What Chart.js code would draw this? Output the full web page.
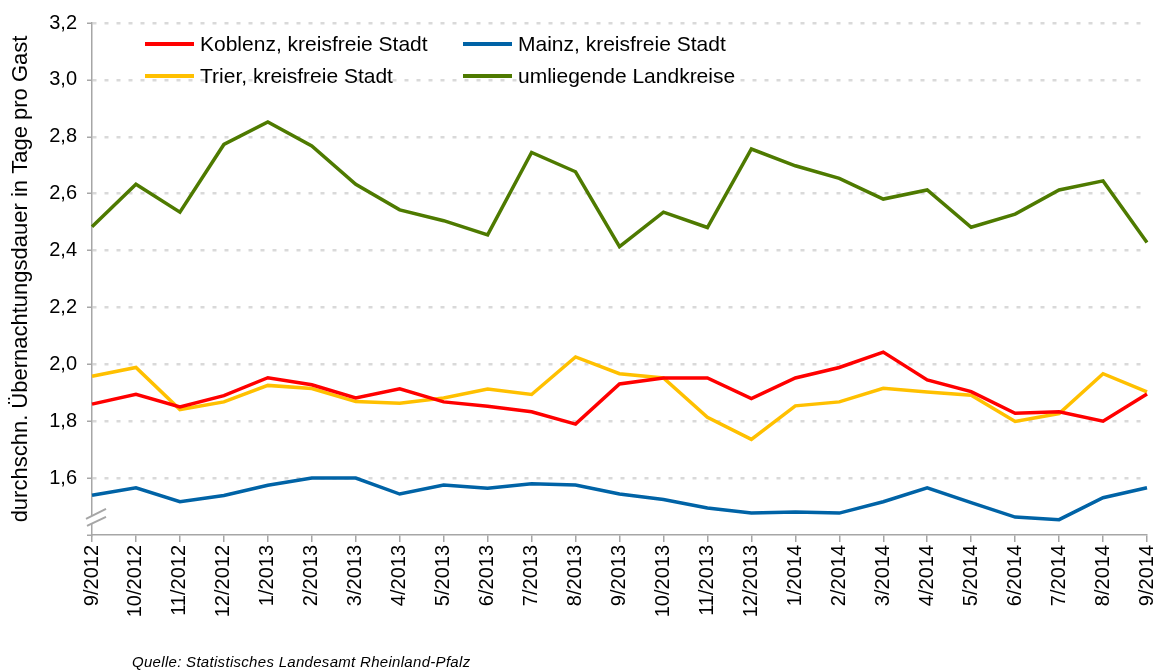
<!DOCTYPE html>
<html>
<head>
<meta charset="utf-8">
<script src="https://cdn.jsdelivr.net/npm/chart.js@4.4.0/dist/chart.umd.min.js"></script>
<style>
  html, body { margin: 0; padding: 0; background: #fff; }
  #wrap { position: relative; width: 1160px; height: 670px; overflow: hidden; }
  #source { position: absolute; left: 132px; top: 653px; font: italic 15px "Liberation Sans", Arial, sans-serif; letter-spacing: 0.3px; color: #000; }
</style>
</head>
<body>
<div id="wrap">
  <canvas id="chart" width="1160" height="670"></canvas>
  <div id="source">Quelle: Statistisches Landesamt Rheinland-Pfalz</div>
</div>
<script>
const months = ['9/2012', '10/2012', '11/2012', '12/2012', '1/2013', '2/2013', '3/2013', '4/2013', '5/2013',
  '6/2013', '7/2013', '8/2013', '9/2013', '10/2013', '11/2013', '12/2013', '1/2014', '2/2014', '3/2014',
  '4/2014', '5/2014', '6/2014', '7/2014', '8/2014', '9/2014'];

const koblenz = [1.86, 1.895, 1.85, 1.89, 1.953, 1.928, 1.882, 1.914, 1.868, 1.853, 1.833, 1.79, 1.931,
  1.952, 1.952, 1.88, 1.952, 1.989, 2.043, 1.945, 1.904, 1.828, 1.833, 1.80, 1.896];
const mainz = [1.54, 1.566, 1.517, 1.539, 1.575, 1.60, 1.60, 1.544, 1.576, 1.564, 1.58, 1.576, 1.544,
  1.525, 1.495, 1.477, 1.481, 1.477, 1.517, 1.566, 1.514, 1.463, 1.454, 1.531, 1.566];
const trier = [1.958, 1.989, 1.841, 1.868, 1.926, 1.915, 1.869, 1.863, 1.882, 1.913, 1.894, 2.026, 1.967,
  1.952, 1.814, 1.736, 1.854, 1.868, 1.916, 1.903, 1.891, 1.799, 1.827, 1.967, 1.903];
const landkreise = [2.484, 2.633, 2.535, 2.773, 2.852, 2.768, 2.633, 2.543, 2.505, 2.455, 2.745, 2.677, 2.414,
  2.535, 2.481, 2.757, 2.698, 2.654, 2.581, 2.613, 2.482, 2.528, 2.613, 2.645, 2.428];

const seriesNames = ['Koblenz, kreisfreie Stadt', 'Mainz, kreisfreie Stadt', 'Trier, kreisfreie Stadt', 'umliegende Landkreise'];
const seriesColors = ['#ff0000', '#0063a6', '#ffc000', '#4e7a00'];
const seriesValues = [koblenz, mainz, trier, landkreise];

const yMin = 1.4, yMax = 3.2, yStep = 0.2;
const font = '"Liberation Sans", Arial, sans-serif';
const axisGrey = '#a6a6a6';

// legend in two columns inside the plot, like the original
const legendPlugin = {
  id: 'gridLegend',
  afterDraw(chart) {
    const ctx = chart.ctx;
    const cols = [145, 463];
    const rows = [44, 76];
    ctx.save();
    ctx.font = '21px ' + font;
    ctx.textBaseline = 'middle';
    ctx.fillStyle = '#000';
    chart.data.datasets.forEach((ds, i) => {
      const x = cols[i % 2], y = rows[Math.floor(i / 2)];
      ctx.strokeStyle = ds.borderColor;
      ctx.lineWidth = 4;
      ctx.beginPath();
      ctx.moveTo(x, y);
      ctx.lineTo(x + 49, y);
      ctx.stroke();
      ctx.fillText(ds.label, x + 55, y + 1);
    });
    ctx.restore();
  }
};

// axis break mark on the y axis
const breakPlugin = {
  id: 'axisBreak',
  afterDraw(chart) {
    const ctx = chart.ctx;
    const cx = chart.chartArea.left + 4;
    const cy = chart.scales.y.getPixelForValue(1.46);
    ctx.save();
    ctx.fillStyle = '#fff';
    ctx.beginPath();
    ctx.moveTo(cx - 10, cy + 1);
    ctx.lineTo(cx + 10, cy - 9);
    ctx.lineTo(cx + 10, cy - 1);
    ctx.lineTo(cx - 9, cy + 8);
    ctx.closePath();
    ctx.fill();
    ctx.strokeStyle = axisGrey;
    ctx.lineWidth = 2;
    ctx.beginPath();
    ctx.moveTo(cx - 10, cy + 1);
    ctx.lineTo(cx + 10, cy - 9);
    ctx.moveTo(cx - 9, cy + 8);
    ctx.lineTo(cx + 10, cy - 1);
    ctx.stroke();
    ctx.restore();
  }
};

new Chart(document.getElementById('chart'), {
  type: 'line',
  data: {
    labels: months,
    datasets: seriesValues.map((vals, i) => ({
      label: seriesNames[i],
      data: vals,
      borderColor: seriesColors[i],
      backgroundColor: seriesColors[i],
      borderWidth: 3.5,
      pointRadius: 0,
      tension: 0,
      order: i === 3 ? 4 : i
    }))
  },
  options: {
    responsive: false,
    animation: false,
    layout: { padding: { top: 23, right: 13, left: 0, bottom: 0 } },
    plugins: {
      legend: { display: false },
      tooltip: { enabled: false }
    },
    scales: {
      x: {
        offset: false,
        afterFit(scale) {
          scale.height = 135;
          scale.paddingLeft = 0;
          scale.paddingRight = 0;
        },
        border: { color: axisGrey, width: 1.5 },
        grid: { drawOnChartArea: false, drawTicks: true, tickLength: 7, color: axisGrey, tickColor: axisGrey, lineWidth: 1.5 },
        ticks: {
          autoSkip: false,
          maxRotation: 90,
          minRotation: 90,
          padding: 3,
          color: '#000',
          font: { family: font, size: 20 }
        }
      },
      y: {
        min: yMin,
        max: yMax,
        afterFit(scale) { scale.width = 92; },
        border: { color: axisGrey, width: 1.5, dash: [4, 8] },
        grid: {
          color: ctx => ctx.tick && ctx.tick.value <= yMin + 0.001 ? 'rgba(0,0,0,0)' : '#d9d9d9',
          lineWidth: 2.5,
          tickLength: 5,
          tickColor: axisGrey,
          tickWidth: 1.5,
          tickBorderDash: []
        },
        ticks: {
          stepSize: yStep,
          padding: 10,
          color: '#000',
          font: { family: font, size: 20 },
          callback: v => v <= yMin + 0.001 ? '' : v.toFixed(1).replace('.', ',')
        },
        title: {
          display: true,
          text: 'durchschn. Übernachtungsdauer in Tage pro Gast',
          color: '#000',
          font: { family: font, size: 22 },
          padding: { top: 8, bottom: 0 }
        }
      }
    }
  },
  plugins: [legendPlugin, breakPlugin]
});
</script>
</body>
</html>
